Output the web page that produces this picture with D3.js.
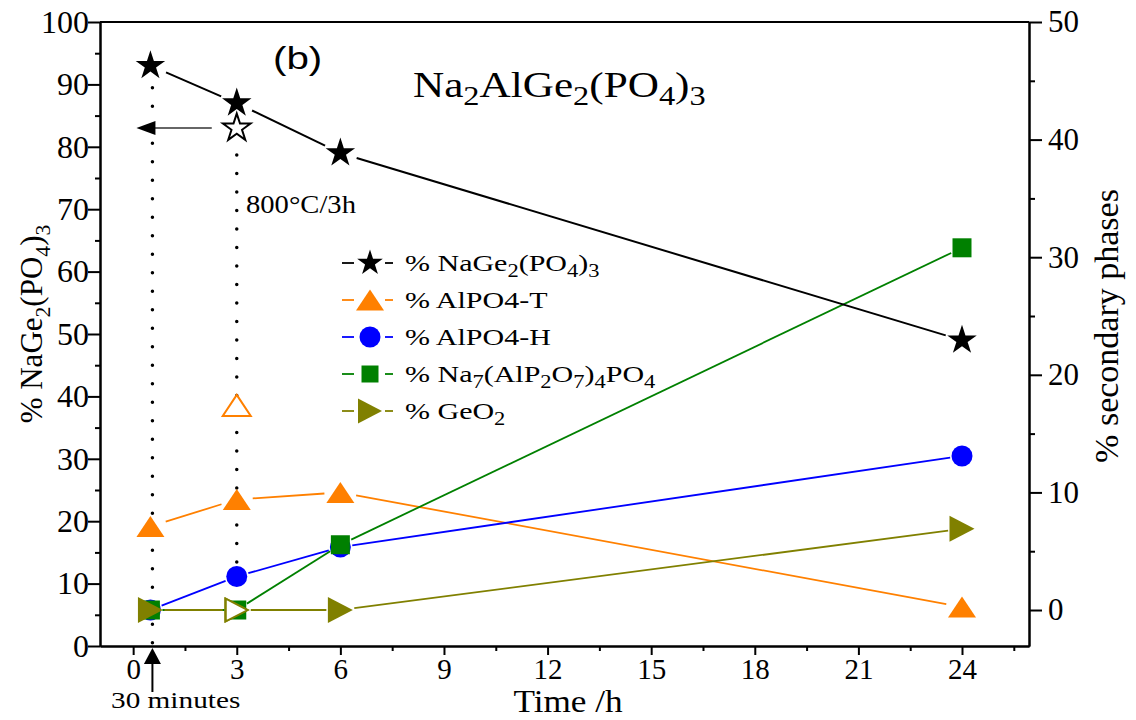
<!DOCTYPE html>
<html><head><meta charset="utf-8">
<script src="https://cdn.jsdelivr.net/npm/d3@7"></script>
<style>body{margin:0;background:#fff}</style>
</head><body>
<svg id="c" width="1136" height="720" xmlns="http://www.w3.org/2000/svg"></svg>
<script>
// ---------- DATA ----------
const times = [0.5, 3, 6, 24];
const nageValues   = [93, 87, 79, 49];        // left axis (% NaGe2(PO4)3)
const alpo4TValues = [7.1, 9.4, 10.0, 0.25];  // right axis
const alpo4HValues = [0.0, 2.85, 5.35, 13.1];
const na7Values    = [0.0, 0.0, 5.55, 30.8];
const geo2Values   = [0.0, 0.0, 0.0, 6.9];
// 800°C/3h open symbols
const openTime = 3;
const nageOpen = 83;
const alpo4TOpen = 17.4;
const geo2Open = 0;
// ticks
const xTicks = [0, 3, 6, 9, 12, 15, 18, 21, 24];
const xMinorTicks = [1.5, 4.5, 7.5, 10.5, 13.5, 16.5, 19.5, 22.5, 25.5];
const leftTicks = [0, 10, 20, 30, 40, 50, 60, 70, 80, 90, 100];
const leftMinorTicks = [5, 15, 25, 35, 45, 55, 65, 75, 85, 95];
const rightTicks = [0, 10, 20, 30, 40, 50];
const rightMinorTicks = [5, 15, 25, 35, 45];
// legend labels: [text, isSub]
const legendLabels = [
  [["% NaGe",0],["2",1],["(PO",0],["4",1],[")",0],["3",1]],
  [["% AlPO4-T",0]],
  [["% AlPO4-H",0]],
  [["% Na",0],["7",1],["(AlP",0],["2",1],["O",0],["7",1],[")",0],["4",1],["PO",0],["4",1]],
  [["% GeO",0],["2",1]]
];
const titleParts = [["Na",0],["2",1],["AlGe",0],["2",1],["(PO",0],["4",1],[")",0],["3",1]];
const leftTitleParts = [["% NaGe",0],["2",1],["(PO",0],["4",1],[")",0],["3",1]];

// ---------- SETUP ----------
const svg = d3.select("#c");
const L = 100, R = 1029, T = 22, B = 646;
const x = d3.scaleLinear().domain([-0.96, 25.94]).range([L, R]);
const yL = d3.scaleLinear().domain([0, 100]).range([B, T]);
const yR = d3.scaleLinear().domain([-3.06, 50]).range([B, T]);
const SERIF = "'Liberation Serif','Times New Roman',serif";
const SANS = "'Liberation Sans',Arial,sans-serif";

const ORANGE = "#ff8000", BLUE = "#0000ff", GREEN = "#008000", OLIVE = "#808000";

function rich(g, px, py, parts, o) {
  const size = o.size, sub = o.subScale || 0.7, shift = size * (o.subShift || 0.25);
  const t = g.append("text")
    .attr("transform", `translate(${px},${py}) rotate(${o.rotate||0}) scale(${o.sx||1},1)`)
    .attr("font-family", o.family || SERIF)
    .attr("font-size", size)
    .attr("text-anchor", o.anchor || "start")
    .attr("fill", "#000");
  let cur = 0;
  parts.forEach(([s, isSub]) => {
    const target = isSub ? shift : 0;
    t.append("tspan")
      .attr("dy", target - cur)
      .attr("font-size", isSub ? size * sub : size)
      .text(s);
    cur = target;
  });
  return t;
}

// ---------- AXES ----------
function styleAxis(g, fs) {
  g.select(".domain").attr("stroke", "#000").attr("stroke-width", 2);
  g.selectAll(".tick line").attr("stroke", "#000").attr("stroke-width", 2);
  g.selectAll(".tick text").attr("font-family", SERIF).attr("font-size", fs).attr("fill", "#000");
}
// minor ticks
const gxMinor = svg.append("g").attr("transform", `translate(0,${B})`)
  .call(d3.axisBottom(x).tickValues(xMinorTicks).tickSize(5).tickSizeOuter(0).tickFormat(""));
styleAxis(gxMinor, 0);
const gx = svg.append("g").attr("transform", `translate(0,${B})`)
  .call(d3.axisBottom(x).tickValues(xTicks).tickSize(9).tickPadding(3).tickSizeOuter(0).tickFormat(d3.format("d")));
styleAxis(gx, 29);

const glMinor = svg.append("g").attr("transform", `translate(${L},0)`)
  .call(d3.axisLeft(yL).tickValues(leftMinorTicks).tickSize(5).tickSizeOuter(0).tickFormat(""));
styleAxis(glMinor, 0);
const gl = svg.append("g").attr("transform", `translate(${L},0)`)
  .call(d3.axisLeft(yL).tickValues(leftTicks).tickSize(12).tickPadding(-1).tickSizeOuter(0).tickFormat(d3.format("d")));
styleAxis(gl, 32);

const grMinor = svg.append("g").attr("transform", `translate(${R},0)`)
  .call(d3.axisRight(yR).tickValues(rightMinorTicks).tickSize(6).tickSizeOuter(0).tickFormat(""));
styleAxis(grMinor, 0);
const gr = svg.append("g").attr("transform", `translate(${R},0)`)
  .call(d3.axisRight(yR).tickValues(rightTicks).tickSize(13).tickPadding(6).tickSizeOuter(0).tickFormat(d3.format("d")));
styleAxis(gr, 31);

// top frame
svg.append("line").attr("x1", L).attr("x2", R).attr("y1", T).attr("y2", T)
  .attr("stroke", "#000").attr("stroke-width", 2);

// ---------- ANNOTATIONS (dotted lines, arrows) ----------
const ann = svg.append("g");
ann.append("line")
  .attr("x1", x(times[0]) + 2).attr("x2", x(times[0]) + 2)
  .attr("y1", yL(nageValues[0]) + 22).attr("y2", B + 2)
  .attr("stroke", "#000").attr("stroke-width", 3.5).attr("stroke-linecap", "round")
  .attr("stroke-dasharray", "0 18.5");
ann.append("line")
  .attr("x1", x(openTime)).attr("x2", x(openTime))
  .attr("y1", yL(nageOpen) + 27).attr("y2", yR(0) - 12)
  .attr("stroke", "#000").attr("stroke-width", 3.5).attr("stroke-linecap", "round")
  .attr("stroke-dasharray", "0 18.5");
// left arrow from open star
const ay = yL(nageOpen);
const tipX = x(times[0]) - 14;
ann.append("line").attr("x1", x(openTime) - 25).attr("x2", tipX + 15)
  .attr("y1", ay).attr("y2", ay).attr("stroke", "#666").attr("stroke-width", 2);
ann.append("path").attr("d", `M${tipX},${ay} L${tipX + 19},${ay - 7} L${tipX + 19},${ay + 7} Z`).attr("fill", "#000");
// up arrow 30 minutes
const ux = x(times[0]) + 2;
ann.append("line").attr("x1", ux).attr("x2", ux).attr("y1", 692).attr("y2", B + 14)
  .attr("stroke", "#000").attr("stroke-width", 2);
ann.append("path").attr("d", `M${ux},${B + 2} L${ux + 8.5},${B + 18} L${ux - 8.5},${B + 18} Z`).attr("fill", "#000");

// ---------- SERIES ----------
function starPath(Ro) {
  const Ri = Ro * 0.382;
  let d = "";
  for (let i = 0; i < 10; i++) {
    const r = i % 2 ? Ri : Ro;
    const a = -Math.PI / 2 + i * Math.PI / 5;
    d += (i ? "L" : "M") + (r * Math.cos(a)).toFixed(2) + "," + (r * Math.sin(a)).toFixed(2);
  }
  return d + "Z";
}
const shapes = {
  star: (s) => starPath(s),
  triUp: (s) => `M0,${-s*0.75} L${s},${s*0.75} L${-s},${s*0.75} Z`,
  circle: (s) => `M${s},0 A${s},${s} 0 1,1 ${-s},0 A${s},${s} 0 1,1 ${s},0 Z`,
  square: (s) => `M${-s},${-s} H${s} V${s} H${-s} Z`,
  triRight: (s) => `M${-s},${-s*1.04} L${s},0 L${-s},${s*1.04} Z`
};

const series = [
  { vals: alpo4TValues, y: yR, color: ORANGE, shape: "triUp", size: 14, gap: 16 },
  { vals: alpo4HValues, y: yR, color: BLUE, shape: "circle", size: 10.5, gap: 12 },
  { vals: na7Values, y: yR, color: GREEN, shape: "square", size: 9.5, gap: 12 },
  { vals: geo2Values, y: yR, color: OLIVE, shape: "triRight", size: 12.5, gap: 14 },
  { vals: nageValues, y: yL, color: "#000", shape: "star", size: 15.5, gap: 17 }
];

const linesG = svg.append("g");
series.forEach(s => {
  const pts = times.map((t, i) => [x(t), s.y(s.vals[i])]);
  for (let i = 0; i < pts.length - 1; i++) {
    const [x0, y0] = pts[i], [x1, y1] = pts[i + 1];
    const dx = x1 - x0, dy = y1 - y0, len = Math.hypot(dx, dy);
    if (len <= 2 * s.gap) continue;
    const ux2 = dx / len, uy2 = dy / len;
    linesG.append("line")
      .attr("x1", x0 + ux2 * s.gap).attr("y1", y0 + uy2 * s.gap)
      .attr("x2", x1 - ux2 * s.gap).attr("y2", y1 - uy2 * s.gap)
      .attr("stroke", s.color).attr("stroke-width", s.color === "#000" ? 2 : 1.8);
  }
});

const marksG = svg.append("g");
series.forEach(s => {
  marksG.selectAll(null).data(times.map((t, i) => [t, s.vals[i]])).enter()
    .append("path")
    .attr("transform", d => `translate(${x(d[0])},${s.y(d[1])})`)
    .attr("d", shapes[s.shape](s.size))
    .attr("fill", s.color);
});
// open symbols (800°C / 3h)
marksG.append("path").attr("transform", `translate(${x(openTime)},${yL(nageOpen)})`)
  .attr("d", starPath(14.5)).attr("fill", "#fff").attr("stroke", "#000").attr("stroke-width", 2);
marksG.append("path").attr("transform", `translate(${x(openTime)},${yR(alpo4TOpen)})`)
  .attr("d", shapes.triUp(14)).attr("fill", "#fff").attr("stroke", ORANGE).attr("stroke-width", 2);
marksG.append("path").attr("transform", `translate(${x(openTime)},${yR(geo2Open)})`)
  .attr("d", shapes.triRight(11)).attr("fill", "#fff").attr("stroke", OLIVE).attr("stroke-width", 2);

// ---------- LEGEND ----------
const leg = svg.append("g");
const legShapes = [
  { color: "#000", shape: "star", size: 13.5 },
  { color: ORANGE, shape: "triUp", size: 14 },
  { color: BLUE, shape: "circle", size: 10.5 },
  { color: GREEN, shape: "square", size: 8.5 },
  { color: OLIVE, shape: "triRight", size: 12 }
];
const legY = d3.scaleLinear().domain([0, 4]).range([263, 411]);
legShapes.forEach((s, i) => {
  const yy = legY(i), mx = 370;
  leg.append("line").attr("x1", 342).attr("x2", 354).attr("y1", yy).attr("y2", yy)
    .attr("stroke", s.color).attr("stroke-width", 1.8);
  leg.append("line").attr("x1", 385).attr("x2", 393).attr("y1", yy).attr("y2", yy)
    .attr("stroke", s.color).attr("stroke-width", 1.8);
  leg.append("path").attr("transform", `translate(${mx},${yy})`)
    .attr("d", shapes[s.shape](s.size)).attr("fill", s.color);
  rich(leg, 405, yy + 8, legendLabels[i], { size: 24, sx: 1.25, subScale: 0.75 });
});

// ---------- TEXTS ----------
rich(svg, 413, 97, titleParts, { size: 36, sx: 1.2, subScale: 0.75, subShift: 0.22 });
rich(svg, 273, 69, [["(b)",0]], { size: 31, sx: 1.3, family: SANS });
rich(svg, 246, 213, [["800°C/3h",0]], { size: 26, sx: 1.1 });
rich(svg, 111, 708, [["30 minutes",0]], { size: 24, sx: 1.22 });
rich(svg, 568, 712, [["Time /h",0]], { size: 32, sx: 1.1, anchor: "middle" });
rich(svg, 42, 324, leftTitleParts, { size: 31, rotate: -90, anchor: "middle", subScale: 0.7 });
rich(svg, 1118, 326, [["% secondary phases",0]], { size: 34, rotate: -90, anchor: "middle" });
</script>
</body></html>
